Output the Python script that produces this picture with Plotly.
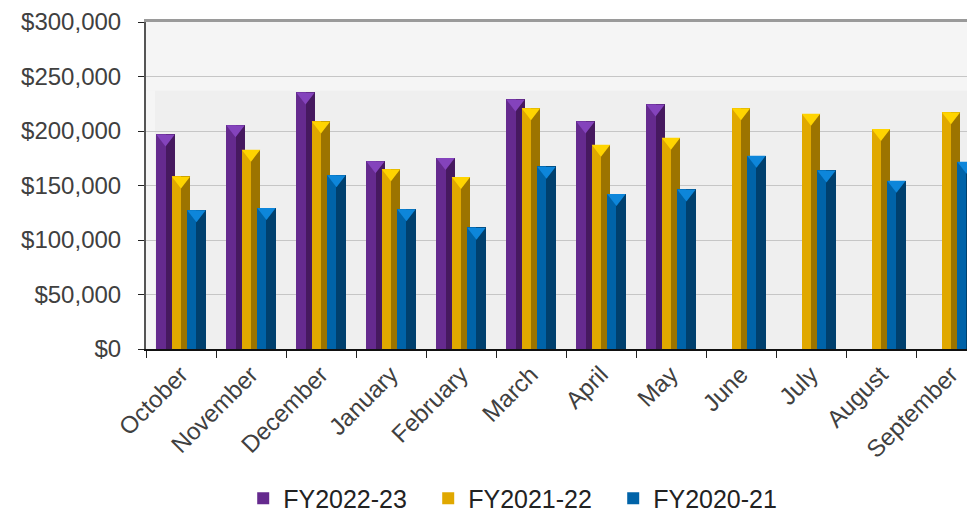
import plotly.graph_objects as go
import numpy as np

months = ["October", "November", "December", "January", "February", "March",
          "April", "May", "June", "July", "August", "September"]
fy2022_23 = [197000, 205500, 235500, 172500, 175500, 229000, 209000, 224500, None, None, None, None]
fy2021_22 = [158500, 183000, 209000, 165000, 158000, 221000, 187500, 194000, 221000, 216000, 202000, 217500]
fy2020_21 = [127500, 129500, 159500, 128500, 111500, 167500, 142500, 146500, 177500, 164000, 154500, 172000]

series = [
    ("FY2022-23", fy2022_23, "#652A8E", "#46195F", "#8443BC"),
    ("FY2021-22", fy2021_22, "#E0A800", "#9C7400", "#FFD400"),
    ("FY2020-21", fy2020_21, "#0063A8", "#00406E", "#0D86DA"),
]

# page has an 8px body margin, so the figure is drawn 8px in from the top-left
W, H = 967, 506
L, R, T, B = 138, 0, 14, 165
plot_h = H - T - B
ymax = 300000
px_per_val = plot_h / ymax

bar_w = 0.26
centers = [-0.221, 0.0, 0.221]

fig = go.Figure()
idx = np.arange(len(months))
for (name, vals, light, dark, top), c in zip(series, centers):
    fig.add_trace(go.Bar(
        x=months, y=vals, name=name, marker=dict(color=light, line=dict(width=0)),
        width=bar_w / 2, offset=c - bar_w / 2, legendgroup=name, showlegend=True,
        hoverinfo="y"))
    fig.add_trace(go.Bar(
        x=months, y=vals, name=name, marker=dict(color=dark, line=dict(width=0)),
        width=bar_w / 2, offset=c, legendgroup=name, showlegend=False,
        hoverinfo="skip"))
    tri_y = [None if v is None else v - 4.2 / px_per_val for v in vals]
    fig.add_trace(go.Scatter(
        x=idx + c, y=tri_y, mode="markers", xaxis="x2",
        marker=dict(symbol="triangle-down", size=16, color=top, line=dict(width=0)),
        showlegend=False, hoverinfo="skip"))

font_fam = "Liberation Sans, Arial, sans-serif"
xr = [-0.5, -0.5 + (W - L - R) / 70.0]

fig.update_layout(
    width=W, height=H,
    margin=dict(l=L, r=R, t=T, b=B, autoexpand=False),
    paper_bgcolor="white", plot_bgcolor="#EFEFEF",
    barmode="overlay", bargap=0,
    font=dict(family=font_fam, size=24, color="#404040"),
    xaxis=dict(type="category", range=xr, tickson="boundaries",
               tickangle=-45, ticks="outside", ticklen=7, tickcolor="#222",
               showline=True, linecolor="#111", linewidth=2, automargin=False,
               showgrid=False, tickfont=dict(size=24, color="#404040")),
    xaxis2=dict(overlaying="x", range=xr, side="top", showline=True,
                linecolor="#9A9A9A", linewidth=3, showticklabels=False,
                showgrid=False, zeroline=False, ticks="", automargin=False),
    yaxis=dict(range=[0, ymax], dtick=50000, tickformat="$,", ticks="outside",
               ticklen=6, tickcolor="#222", showline=True, linecolor="#555",
               linewidth=2, gridcolor="#C6C6C6", gridwidth=1, zeroline=False,
               automargin=False, ticklabelstandoff=12,
               tickfont=dict(size=24, color="#404040")),
    legend=dict(orientation="h", x=0.452, xanchor="center", y=-0.457, yanchor="middle",
                font=dict(size=25, color="#222"), traceorder="normal",
                itemwidth=30, entrywidth=140, bgcolor="rgba(0,0,0,0)"),
    shapes=[
        dict(type="rect", xref="paper", yref="y", x0=0, x1=1, y0=237000, y1=300000,
             fillcolor="#F5F5F5", line=dict(width=0), layer="below"),
        dict(type="rect", xref="paper", yref="y", x0=0, x1=9 / (W - L - R), y0=0, y1=237000,
             fillcolor="#F5F5F5", line=dict(width=0), layer="below"),
    ],
)

fig.write_html("out.html")
